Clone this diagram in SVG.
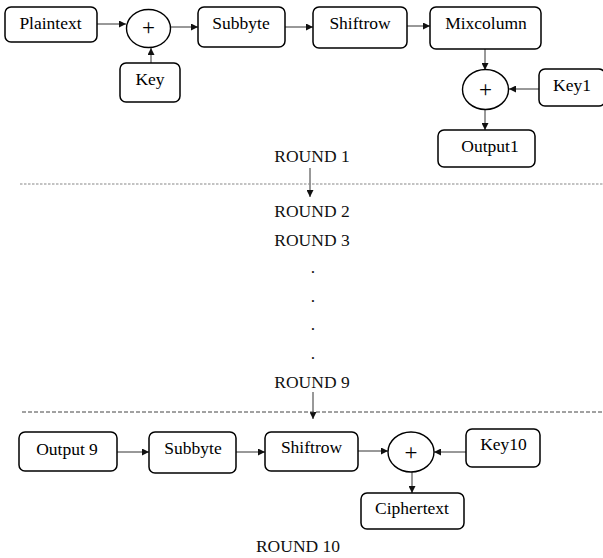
<svg xmlns="http://www.w3.org/2000/svg" width="603" height="558" viewBox="0 0 603 558">
<defs>
<style>
.box{fill:#fff;stroke:#000;stroke-width:1.5}
.xor{fill:#fff;stroke:#000;stroke-width:1.4}
.t{font-family:"Liberation Serif","Times New Roman",serif;font-size:17.5px;fill:#000;text-anchor:middle}
.r{font-family:"Liberation Serif","Times New Roman",serif;font-size:17.5px;fill:#111;text-anchor:middle}
.p{font-family:"Liberation Serif","Times New Roman",serif;font-size:23px;fill:#000;text-anchor:middle}
.c{stroke:#333;stroke-width:1;fill:none;marker-end:url(#ah)}
.d1{stroke:#888;stroke-width:1.2;stroke-dasharray:2.5 1.5}
.d2{stroke:#444;stroke-width:1;stroke-dasharray:4 2}
</style>
<marker id="ah" viewBox="0 0 10 10" refX="10" refY="5" markerWidth="7" markerHeight="7" markerUnits="userSpaceOnUse" orient="auto">
<path d="M0,0 L10,5 L0,10 z" fill="#111"/>
</marker>
</defs>
<g id="connectors">
<line class="c" x1="97" y1="24" x2="126" y2="24"/>
<line class="c" x1="171" y1="27" x2="198" y2="27"/>
<line class="c" x1="151" y1="63" x2="151" y2="48"/>
<line class="c" x1="285" y1="27" x2="313" y2="27"/>
<line class="c" x1="407" y1="26" x2="430" y2="26"/>
<line class="c" x1="485" y1="49" x2="485" y2="70"/>
<line class="c" x1="539" y1="89" x2="509" y2="89"/>
<line class="c" x1="485" y1="110" x2="485" y2="130"/>
<line class="c" x1="310" y1="168" x2="310" y2="197"/>
<line class="d1" x1="20" y1="184" x2="603" y2="184"/>
<line class="c" x1="313" y1="392" x2="313" y2="419"/>
<line class="d2" x1="22" y1="412" x2="603" y2="412"/>
<line class="c" x1="117" y1="452" x2="149" y2="452"/>
<line class="c" x1="236" y1="452" x2="265" y2="452"/>
<line class="c" x1="358" y1="451" x2="388" y2="451"/>
<line class="c" x1="466" y1="452" x2="434" y2="452"/>
<line class="c" x1="412" y1="472" x2="412" y2="493"/>
</g>
<g id="plaintext"><rect class="box" x="5" y="7" width="92" height="35" rx="6"/><text class="t" x="50.5" y="29">Plaintext</text></g>
<g id="xor1"><ellipse class="xor" cx="148.5" cy="28.5" rx="22" ry="19"/><text class="p" x="148.5" y="35">+</text></g>
<g id="key"><rect class="box" x="120" y="63" width="60" height="39" rx="6"/><text class="t" x="150" y="85">Key</text></g>
<g id="subbyte1"><rect class="box" x="198" y="7" width="87" height="40" rx="6"/><text class="t" x="241" y="29">Subbyte</text></g>
<g id="shiftrow1"><rect class="box" x="313" y="7" width="94" height="41" rx="6"/><text class="t" x="360" y="29">Shiftrow</text></g>
<g id="mixcolumn"><rect class="box" x="430" y="7" width="111" height="42" rx="6"/><text class="t" x="486" y="29">Mixcolumn</text></g>
<g id="xor2"><ellipse class="xor" cx="485.5" cy="89.5" rx="23" ry="20"/><text class="p" x="485.5" y="97">+</text></g>
<g id="key1"><rect class="box" x="539" y="69" width="66" height="37" rx="6"/><text class="t" x="572" y="91">Key1</text></g>
<g id="output1"><rect class="box" x="438" y="130" width="97" height="37" rx="6"/><text class="t" x="490" y="152">Output1</text></g>
<g id="rounds">
<text class="r" x="312" y="162">ROUND 1</text>
<text class="r" x="312" y="217">ROUND 2</text>
<text class="r" x="312" y="246">ROUND 3</text>
<text class="r" x="313" y="273">.</text>
<text class="r" x="313" y="302">.</text>
<text class="r" x="313" y="330">.</text>
<text class="r" x="313" y="359">.</text>
<text class="r" x="312" y="388">ROUND 9</text>
<text class="r" x="298" y="552">ROUND 10</text>
</g>
<g id="output9"><rect class="box" x="19" y="432" width="98" height="39" rx="6"/><text class="t" x="67" y="455">Output 9</text></g>
<g id="subbyte2"><rect class="box" x="149" y="432" width="87" height="41" rx="6"/><text class="t" x="193" y="454">Subbyte</text></g>
<g id="shiftrow2"><rect class="box" x="265" y="432" width="93" height="39" rx="6"/><text class="t" x="311.5" y="453">Shiftrow</text></g>
<g id="xor3"><ellipse class="xor" cx="411" cy="452" rx="23" ry="20"/><text class="p" x="411" y="459.5">+</text></g>
<g id="key10"><rect class="box" x="466" y="429" width="74" height="38" rx="6"/><text class="t" x="503.5" y="450">Key10</text></g>
<g id="ciphertext"><rect class="box" x="361" y="493" width="103" height="36" rx="6"/><text class="t" x="412" y="514">Ciphertext</text></g>
</svg>
